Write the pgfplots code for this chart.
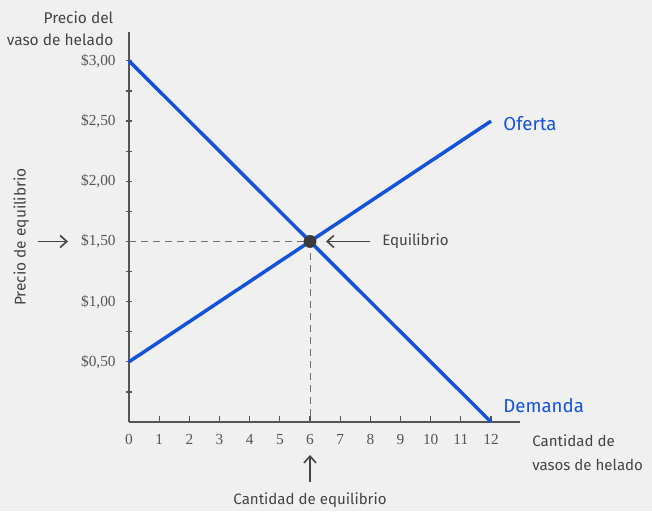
\documentclass[border=0pt]{standalone}
\usepackage{pgfplots}
\pgfplotsset{compat=1.18}
\usetikzlibrary{arrows.meta}
\usepackage{fontspec}
\setmainfont{Fira Sans}
\newfontfamily\tickfont{Liberation Serif}
\definecolor{bg}{RGB}{240,240,240}
\definecolor{axisgray}{RGB}{85,85,85}
\definecolor{dashgray}{RGB}{110,110,110}
\definecolor{txtgray}{RGB}{68,68,68}
\definecolor{lineblue}{RGB}{20,82,222}
\definecolor{dotgray}{RGB}{58,58,58}
\begin{document}
\begin{tikzpicture}[x=1pt,y=1pt]
\fill[bg] (-96.75,-66.75) rectangle (392.25,316.5);
\begin{axis}[
  at={(0,0)}, anchor=south west,
  scale only axis, width=293.25pt, height=292.5pt,
  xmin=0, xmax=12.96, ymin=0, ymax=3.24,
  axis lines=left, axis line style={axisgray, line width=1.1pt, -},
  clip=false,
  xtick={0,1,...,12},
  ytick={0.25,0.5,...,3},
  yticklabels={,\$0{,}50,,\$1{,}00,,\$1{,}50,,\$2{,}00,,\$2{,}50,,\$3{,}00},
  tick align=center, major tick length=5pt,
  tick style={axisgray, line width=0.9pt},
  x tick style={yshift=2.2pt},
  /pgf/number format/assume math mode=true,
  ticklabel style={font=\tickfont\fontsize{11.5}{12}\selectfont, text=axisgray},
  yticklabel style={xshift=-4pt},
  xticklabel style={yshift=-3pt},
]
\addplot[dashgray, line width=0.7pt, dash pattern=on 5pt off 4pt] coordinates {(0,1.5) (6,1.5)};
\addplot[dashgray, line width=0.7pt, dash pattern=on 5pt off 4pt] coordinates {(6,1.5) (6,0)};
\addplot[lineblue, line width=2.6pt] coordinates {(0,0.5) (12,2.5)};
\addplot[lineblue, line width=2.6pt] coordinates {(0,3) (12,0)};
\addplot[only marks, mark=*, mark size=4.6pt, mark options={fill=dotgray, draw=dotgray}] coordinates {(6,1.5)};
\node[anchor=east, text=txtgray, font=\fontsize{11.6}{13}\selectfont] at (axis cs:-0.365,3.364) {Precio del};
\node[anchor=east, text=txtgray, font=\fontsize{11.6}{13}\selectfont] at (axis cs:-0.365,3.173) {vaso de helado};
\node[rotate=90, text=txtgray, font=\fontsize{11.6}{13}\selectfont] at (axis cs:-3.57,1.537) {Precio de equilibrio};
\draw[-{Straight Barb[length=5pt,width=9pt]}, txtgray, line width=1.2pt] (axis cs:-3.016,1.5) -- (axis cs:-2.022,1.5);
\draw[-{Straight Barb[length=5pt,width=9pt]}, txtgray, line width=1.2pt] (axis cs:7.988,1.5) -- (axis cs:6.53,1.5);
\node[anchor=west, text=txtgray, font=\fontsize{11.3}{13}\selectfont, inner sep=0pt] at (axis cs:8.386,1.5) {Equilibrio};
\node[anchor=west, text=lineblue, font=\fontsize{14}{16}\selectfont, inner sep=0pt] at (axis cs:12.4,2.475) {Oferta};
\node[anchor=west, text=lineblue, font=\fontsize{14}{16}\selectfont, inner sep=0pt] at (axis cs:12.4,0.133) {Demanda};
\node[anchor=west, text=txtgray, font=\fontsize{11.3}{13}\selectfont, inner sep=0pt] at (axis cs:13.36,-0.158) {Cantidad de};
\node[anchor=west, text=txtgray, font=\fontsize{11.3}{13}\selectfont, inner sep=0pt] at (axis cs:13.36,-0.357) {vasos de helado};
\draw[-{Straight Barb[length=5pt,width=9pt]}, txtgray, line width=1.2pt] (axis cs:6,-0.498) -- (axis cs:6,-0.274);
\node[text=txtgray, font=\fontsize{11.3}{13}\selectfont] at (axis cs:6,-0.648) {Cantidad de equilibrio};
\end{axis}
\useasboundingbox (-96.75,-66.75) rectangle (392.25,316.5);
\end{tikzpicture}
\end{document}
